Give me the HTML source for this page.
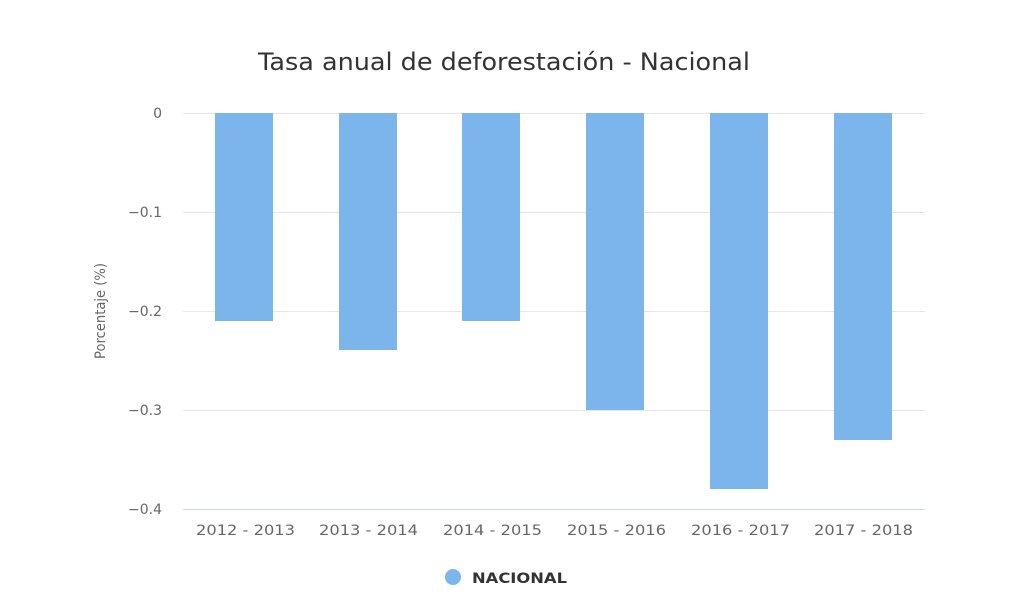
<!DOCTYPE html>
<html><head><meta charset="utf-8"><style>body{margin:0;background:#fff}svg{display:block}</style></head><body>
<svg width="1024" height="595" xmlns="http://www.w3.org/2000/svg" font-family="'DejaVu Sans', sans-serif">
<text x="258" y="70" font-size="24" fill="#333" textLength="492" lengthAdjust="spacingAndGlyphs">Tasa anual de deforestación - Nacional</text>
<g stroke="#e6e6e6" stroke-width="1">
<line x1="183" x2="925" y1="113.5" y2="113.5"/>
<line x1="183" x2="925" y1="212.5" y2="212.5"/>
<line x1="183" x2="925" y1="311.5" y2="311.5"/>
<line x1="183" x2="925" y1="410.5" y2="410.5"/>
</g>
<line x1="183" x2="925" y1="509.5" y2="509.5" stroke="#ccd6eb"/>
<g font-size="14" fill="#666" text-anchor="end">
<text x="162" y="118">0</text>
<text x="162" y="217">−0.1</text>
<text x="162" y="316">−0.2</text>
<text x="162" y="415">−0.3</text>
<text x="162" y="514">−0.4</text>
</g>
<text transform="translate(105,311) rotate(-90)" text-anchor="middle" font-size="14" fill="#666" textLength="96" lengthAdjust="spacingAndGlyphs">Porcentaje (%)</text>
<g fill="#7cb5ec">
<rect x="215" y="113" width="58" height="208"/>
<rect x="339" y="113" width="58" height="237"/>
<rect x="462" y="113" width="58" height="208"/>
<rect x="586" y="113" width="58" height="297"/>
<rect x="710" y="113" width="58" height="376"/>
<rect x="834" y="113" width="58" height="327"/>
</g>
<g font-size="14" fill="#666">
<text x="196" y="535" textLength="99" lengthAdjust="spacingAndGlyphs">2012 - 2013</text>
<text x="319" y="535" textLength="99" lengthAdjust="spacingAndGlyphs">2013 - 2014</text>
<text x="443" y="535" textLength="99" lengthAdjust="spacingAndGlyphs">2014 - 2015</text>
<text x="567" y="535" textLength="99" lengthAdjust="spacingAndGlyphs">2015 - 2016</text>
<text x="691" y="535" textLength="99" lengthAdjust="spacingAndGlyphs">2016 - 2017</text>
<text x="814" y="535" textLength="99" lengthAdjust="spacingAndGlyphs">2017 - 2018</text>
</g>
<circle cx="453" cy="577" r="8" fill="#7cb5ec"/>
<text x="472" y="583" font-size="14" font-weight="bold" fill="#333" textLength="95" lengthAdjust="spacingAndGlyphs">NACIONAL</text>
</svg>
</body></html>
